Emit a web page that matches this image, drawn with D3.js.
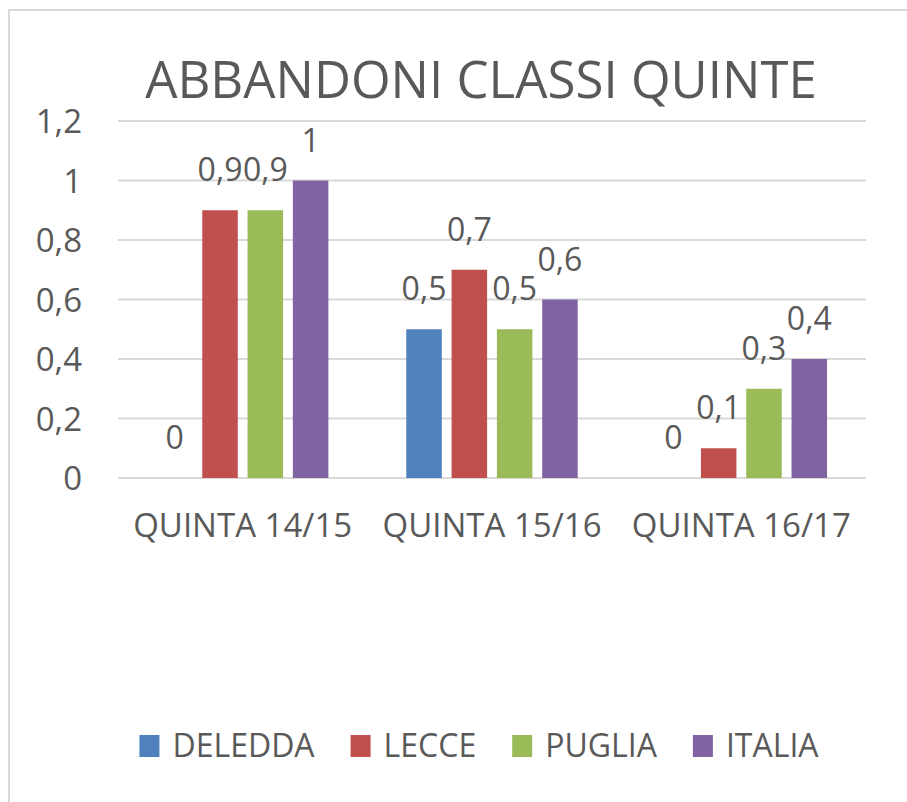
<!DOCTYPE html>
<html>
<head>
<meta charset="utf-8">
<script src="https://cdn.jsdelivr.net/npm/d3@7"></script>
<style>
  body { margin: 0; background: #fff; }
  text { font-family: "Open Sans", Lato, sans-serif; fill: #595959; }
</style>
</head>
<body>
<div id="chart"></div>
<script>
var width = 907, height = 802;

// data
var categories = ["QUINTA 14/15", "QUINTA 15/16", "QUINTA 16/17"];
var series = ["DELEDDA", "LECCE", "PUGLIA", "ITALIA"];
var colors = ["#4F81BD", "#C0504D", "#9BBB59", "#8064A2"];
var deledda = [0, 0.5, 0];
var lecce = [0.9, 0.7, 0.1];
var puglia = [0.9, 0.5, 0.3];
var italia = [1, 0.6, 0.4];
var yTicks = [0, 0.2, 0.4, 0.6, 0.8, 1, 1.2];

var values = [deledda, lecce, puglia, italia];

var it = d3.formatLocale({decimal: ",", thousands: ".", grouping: [3], currency: ["", "€"]});
var fmt = it.format("~g");

var svg = d3.select("#chart")
  .append("svg")
    .attr("width", width)
    .attr("height", height);

svg.append("rect")
    .attr("width", width).attr("height", height)
    .attr("fill", "#fff");

// chart border (runs off the right and bottom of the picture)
svg.append("rect")
    .attr("x", 9).attr("y", 10)
    .attr("width", 1000).attr("height", 1000)
    .attr("fill", "none")
    .attr("stroke", "#d9d9d9")
    .attr("stroke-width", 2);

svg.append("text")
    .attr("x", 481).attr("y", 98)
    .attr("text-anchor", "middle")
    .style("font-size", "51px")
    .text("ABBANDONI CLASSI QUINTE");

var x0 = d3.scaleBand()
    .domain(categories)
    .range([118, 866]);

var x1 = d3.scaleBand()
    .domain(series)
    .range([0, x0.bandwidth()])
    .paddingInner(0.216)
    .paddingOuter(0.86);

var y = d3.scaleLinear()
    .domain([0, 1.2])
    .range([478, 121]);

// gridlines
svg.append("g")
  .selectAll("line")
    .data(yTicks)
  .enter().append("line")
    .attr("x1", 118).attr("x2", 866)
    .attr("y1", function(d) { return y(d); })
    .attr("y2", function(d) { return y(d); })
    .attr("stroke", "#d9d9d9")
    .attr("stroke-width", 2);

// y axis labels
var yAxis = svg.append("g")
    .attr("transform", "translate(82,0)")
    .call(d3.axisLeft(y).tickValues(yTicks).tickFormat(fmt).tickSize(0).tickPadding(0));
yAxis.select(".domain").remove();
yAxis.selectAll("text")
    .attr("dy", "0.36em")
    .style("font-size", "33px")
    .attr("fill", "#595959");

// x axis labels
var xAxis = svg.append("g")
    .attr("transform", "translate(0,478)")
    .call(d3.axisBottom(x0).tickSize(0).tickPadding(0));
xAxis.select(".domain").remove();
xAxis.selectAll("text")
    .attr("y", 59)
    .attr("dy", 0)
    .style("font-size", "33px")
    .attr("fill", "#595959");

// bars
var rows = [];
categories.forEach(function(c, i) {
  series.forEach(function(s, j) {
    rows.push({cat: c, ser: s, value: values[j][i], color: colors[j]});
  });
});

var g = svg.append("g");

g.selectAll("rect")
    .data(rows)
  .enter().append("rect")
    .attr("x", function(d) { return x0(d.cat) + x1(d.ser); })
    .attr("y", function(d) { return y(d.value); })
    .attr("width", x1.bandwidth())
    .attr("height", function(d) { return y(0) - y(d.value); })
    .attr("fill", function(d) { return d.color; });

g.selectAll("text")
    .data(rows)
  .enter().append("text")
    .attr("x", function(d) { return x0(d.cat) + x1(d.ser) + x1.bandwidth() / 2; })
    .attr("y", function(d) { return y(d.value) - 29; })
    .attr("text-anchor", "middle")
    .style("font-size", "32px")
    .text(function(d) { return fmt(d.value); });

// legend
var legend = svg.append("g");
var items = legend.selectAll("g")
    .data(series)
  .enter().append("g");

items.append("rect")
    .attr("y", 735)
    .attr("width", 20).attr("height", 22)
    .attr("fill", function(d, i) { return colors[i]; });

items.append("text")
    .attr("x", 33).attr("y", 757)
    .style("font-size", "32px")
    .text(function(d) { return d; });

var pos = 0, offsets = [];
items.each(function() {
  offsets.push(pos);
  pos += 33 + d3.select(this).select("text").node().getComputedTextLength() + 36;
});
var total = pos - 36;
var start = 479 - total / 2;
items.attr("transform", function(d, i) { return "translate(" + (start + offsets[i]) + ",0)"; });
</script>
</body>
</html>
